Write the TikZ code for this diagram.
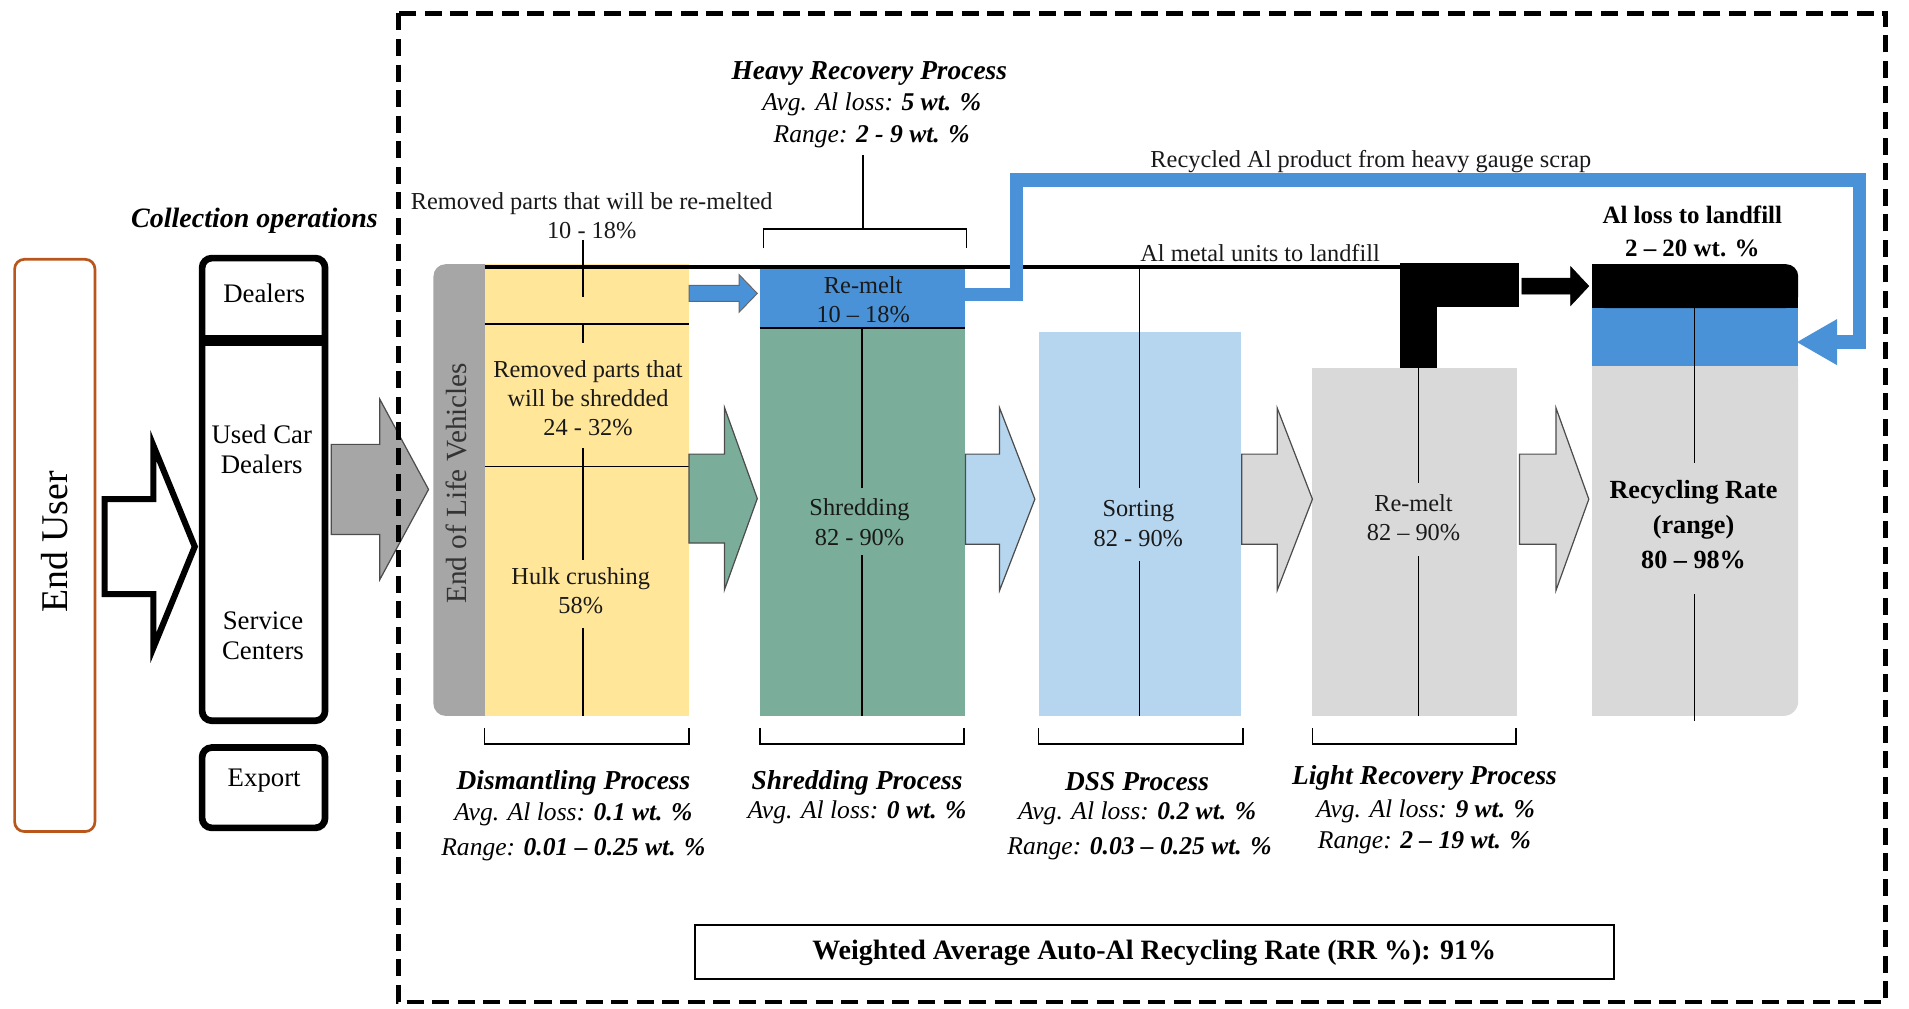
\documentclass[tikz,border=0pt]{standalone}
\usepackage{fontspec}
\setmainfont{Liberation Serif}
\definecolor{eyellow}{HTML}{FFE699}
\definecolor{egreen}{HTML}{7BAE9A}
\definecolor{eblue}{HTML}{4A92D8}
\definecolor{elblue}{HTML}{B6D6F0}
\definecolor{elgray}{HTML}{D9D9D9}
\definecolor{egray}{HTML}{A6A6A6}
\definecolor{ebrown}{HTML}{B8561C}
\newcommand{\blkarrow}[7]{%
  \filldraw[#1] (#2,{#5-#6}) -- (#3,{#5-#6}) -- (#3,{#5-#7}) -- (#4,#5) -- (#3,{#5+#7}) -- (#3,{#5+#6}) -- (#2,{#5+#6}) -- cycle;}
\tikzset{
  txt/.style={font=\fontsize{20}{24}\selectfont, align=center, inner sep=0pt, text=black!90},
  coltxt/.style={font=\fontsize{22}{25}\selectfont, align=center, inner sep=0pt},
  hdr/.style={font=\fontsize{22.5}{27}\selectfont\bfseries\itshape, inner sep=0pt},
  ital/.style={font=\fontsize{21}{25}\selectfont\itshape, inner sep=0pt},
  boldtxt/.style={font=\fontsize{21.5}{29}\selectfont\bfseries, align=center, inner sep=0pt},
  vline/.style={line width=1.2},
  brk/.style={line width=1.3},
}
\begin{document}
\begin{tikzpicture}[x=1pt,y=-1pt]
\useasboundingbox (0,0) rectangle (1568,828);

% End user
\draw[ebrown, line width=2.2, rounded corners=8] (12,213) rectangle (78,683);
\node[rotate=90, font=\fontsize{31}{35}\selectfont] (enduser) at (45,445) {End User};

% hollow arrow
\blkarrow{draw=black, fill=white, line width=5}{86}{126}{160}{449}{39}{83}

% collection operations
\node[hdr, font=\fontsize{23}{27}\selectfont\bfseries\itshape] (collop) at (209,181) {Collection operations};
\draw[line width=5.5, rounded corners=8] (166,212) rectangle (267,592);
\draw[line width=9] (166,280) -- (267,280);
\draw[line width=5.5, rounded corners=8] (166,614) rectangle (267,680);
\node[coltxt] (dealers) at (217,241) {Dealers};
\node[coltxt] (usedcar) at (215,369) {Used Car\\Dealers};
\node[coltxt] (service) at (216,522) {Service\\Centers};
\node[coltxt] (export) at (217,641) {Export};

% gray arrow into ELV
\blkarrow{draw=black!70, fill=egray, line width=1}{272}{312}{352}{402}{37}{74}

% ELV + dismantling
\fill[egray, rounded corners=10] (356,217) rectangle (420,588);
\fill[eyellow] (398,217) rectangle (566,588);
\node[rotate=90, font=\fontsize{24}{28}\selectfont, text=black!80, inner sep=0pt] (elv) at (375,397) {End of Life Vehicles};
\draw[line width=1.2] (398,266) -- (566,266);
\draw[line width=1.2] (398,383) -- (566,383);
\draw[vline] (479,197) -- (479,244);
\draw[vline] (479,266) -- (479,282);
\draw[vline] (479,368) -- (479,460);
\draw[vline] (479,516) -- (479,588);
\node[txt] (remtop) at (486,177) {Removed parts that will be re-melted\\10 - 18\%};
\node[txt] (remshr) at (483,327) {Removed parts that\\will be shredded\\24 - 32\%};
\node[txt] (hulk) at (477,485) {Hulk crushing\\58\%};

% heavy recovery: re-melt + shredding
\fill[eblue] (624,218) rectangle (793,270);
\fill[egreen] (624,270) rectangle (793,588);
\draw[line width=1.2] (624,269.5) -- (793,269.5);
\node[txt] (remelt1) at (709,246) {Re-melt\\10 – 18\%};
\draw[vline] (708,270) -- (708,401);
\draw[vline] (708,456) -- (708,588);
\node[txt] (shred) at (706,429) {Shredding\\82 - 90\%};

% top bracket and heavy recovery label
\draw[brk] (627,204) -- (627,188) -- (794,188) -- (794,204);
\draw[brk] (709,188) -- (709,127);
\node[hdr] (hrp) at (714,60) {Heavy Recovery Process};
\node[ital] (hrpavg) at (716,86) {Avg. Al loss: \bfseries 5 wt. \%};
\node[ital] (hrprng) at (716,112) {Range: \bfseries 2 - 9 wt. \%};

% sorting
\fill[elblue] (853,273) rectangle (1019,588);
\draw[vline] (936,219) -- (936,401);
\draw[vline] (936,461) -- (936,588);
\node[txt] (sort) at (935,430) {Sorting\\82 - 90\%};

% light recovery remelt
\fill[elgray] (1078,302) rectangle (1246,588);
\draw[vline] (1165,302) -- (1165,397);
\draw[vline] (1165,457) -- (1165,588);
\node[txt] (remelt2) at (1161,425) {Re-melt\\82 – 90\%};

% recycling rate column
\fill[elgray, rounded corners=12] (1308,301) rectangle (1477,588);
\fill[elgray] (1308,301) rectangle (1420,588);
\fill[elgray] (1308,301) rectangle (1477,540);
\fill[eblue] (1308,253) rectangle (1477,301);
\fill[black, rounded corners=10] (1308,217) rectangle (1477,253);
\fill[black] (1308,217) rectangle (1420,253);
\fill[black] (1308,235) rectangle (1477,253);
\draw[vline] (1392,245) -- (1392,380);
\draw[vline] (1392,488) -- (1392,592);
\node[boldtxt] (rr) at (1391,431) {Recycling Rate\\(range)\\80 – 98\%};
\node[font=\fontsize{20.5}{27}\selectfont\bfseries, align=center, inner sep=0pt] (alloss) at (1390,190) {Al loss to landfill\\2 – 20 wt. \%};

% black landfill line and block
\draw[line width=3.5] (398,219) -- (1150,219);
\fill[black] (1150,216) rectangle (1248,252);
\fill[black] (1150,252) rectangle (1180,302);
\node[txt] (metal) at (1035,208) {Al metal units to landfill};
\blkarrow{fill=black, draw=black, line width=0.5}{1250}{1290}{1305}{235}{6.5}{16}

% small blue arrow to re-melt
\blkarrow{draw=black!60, fill=eblue, line width=0.8}{566}{607}{622}{241}{6.6}{15.5}

% process block arrows
\blkarrow{draw=black!70, fill=egreen, line width=1}{566}{595}{622}{409.5}{36.5}{75}
\blkarrow{draw=black!70, fill=elblue, line width=1}{793}{821}{850}{410}{37}{75}
\blkarrow{draw=black!70, fill=elgray, line width=1}{1020}{1049}{1078}{410}{37}{75}
\blkarrow{draw=black!70, fill=elgray, line width=1}{1248}{1278}{1305}{410}{37}{75}

% blue recycled loop
\draw[eblue, line width=11] (793,242) -- (835,242) -- (835,148) -- (1527.5,148) -- (1527.5,281) -- (1508,281);
\fill[eblue] (1509,262) -- (1476,281) -- (1509,300) -- cycle;
\node[txt] (recyc) at (1126,133) {Recycled Al product from heavy gauge scrap};

% bottom brackets
\draw[brk] (398,598) -- (398,611) -- (566,611) -- (566,598);
\draw[brk] (624,598) -- (624,611) -- (792,611) -- (792,598);
\draw[brk] (853,598) -- (853,611) -- (1021,611) -- (1021,598);
\draw[brk] (1078,598) -- (1078,611) -- (1245,611) -- (1245,598);

% bottom labels
\node[hdr] (dism) at (471,643) {Dismantling Process};
\node[ital] (dismavg) at (471,669) {Avg. Al loss: \bfseries 0.1 wt. \%};
\node[ital] (dismrng) at (471,698) {Range: \bfseries 0.01 – 0.25 wt. \%};
\node[hdr] (shp) at (704,643) {Shredding Process};
\node[ital] (shpavg) at (704,667) {Avg. Al loss: \bfseries 0 wt. \%};
\node[hdr] (dss) at (934,642) {DSS Process};
\node[ital] (dssavg) at (934,668) {Avg. Al loss: \bfseries 0.2 wt. \%};
\node[ital] (dssrng) at (936,697) {Range: \bfseries 0.03 – 0.25 wt. \%};
\node[hdr] (lrp) at (1170,639) {Light Recovery Process};
\node[ital] (lrpavg) at (1171,666) {Avg. Al loss: \bfseries 9 wt. \%};
\node[ital] (lrprng) at (1170,692) {Range: \bfseries 2 – 19 wt. \%};

% weighted average box
\draw[line width=1.5] (571,760) rectangle (1326,804);
\node[font=\fontsize{23}{27}\selectfont\bfseries, inner sep=0pt] (wavg) at (948,783) {Weighted Average Auto-Al Recycling Rate (RR \%): 91\%};

% dashed frame
\draw[line width=4, dash pattern=on 14 off 7] (327,11) rectangle (1549,823);
\end{tikzpicture}
\end{document}
